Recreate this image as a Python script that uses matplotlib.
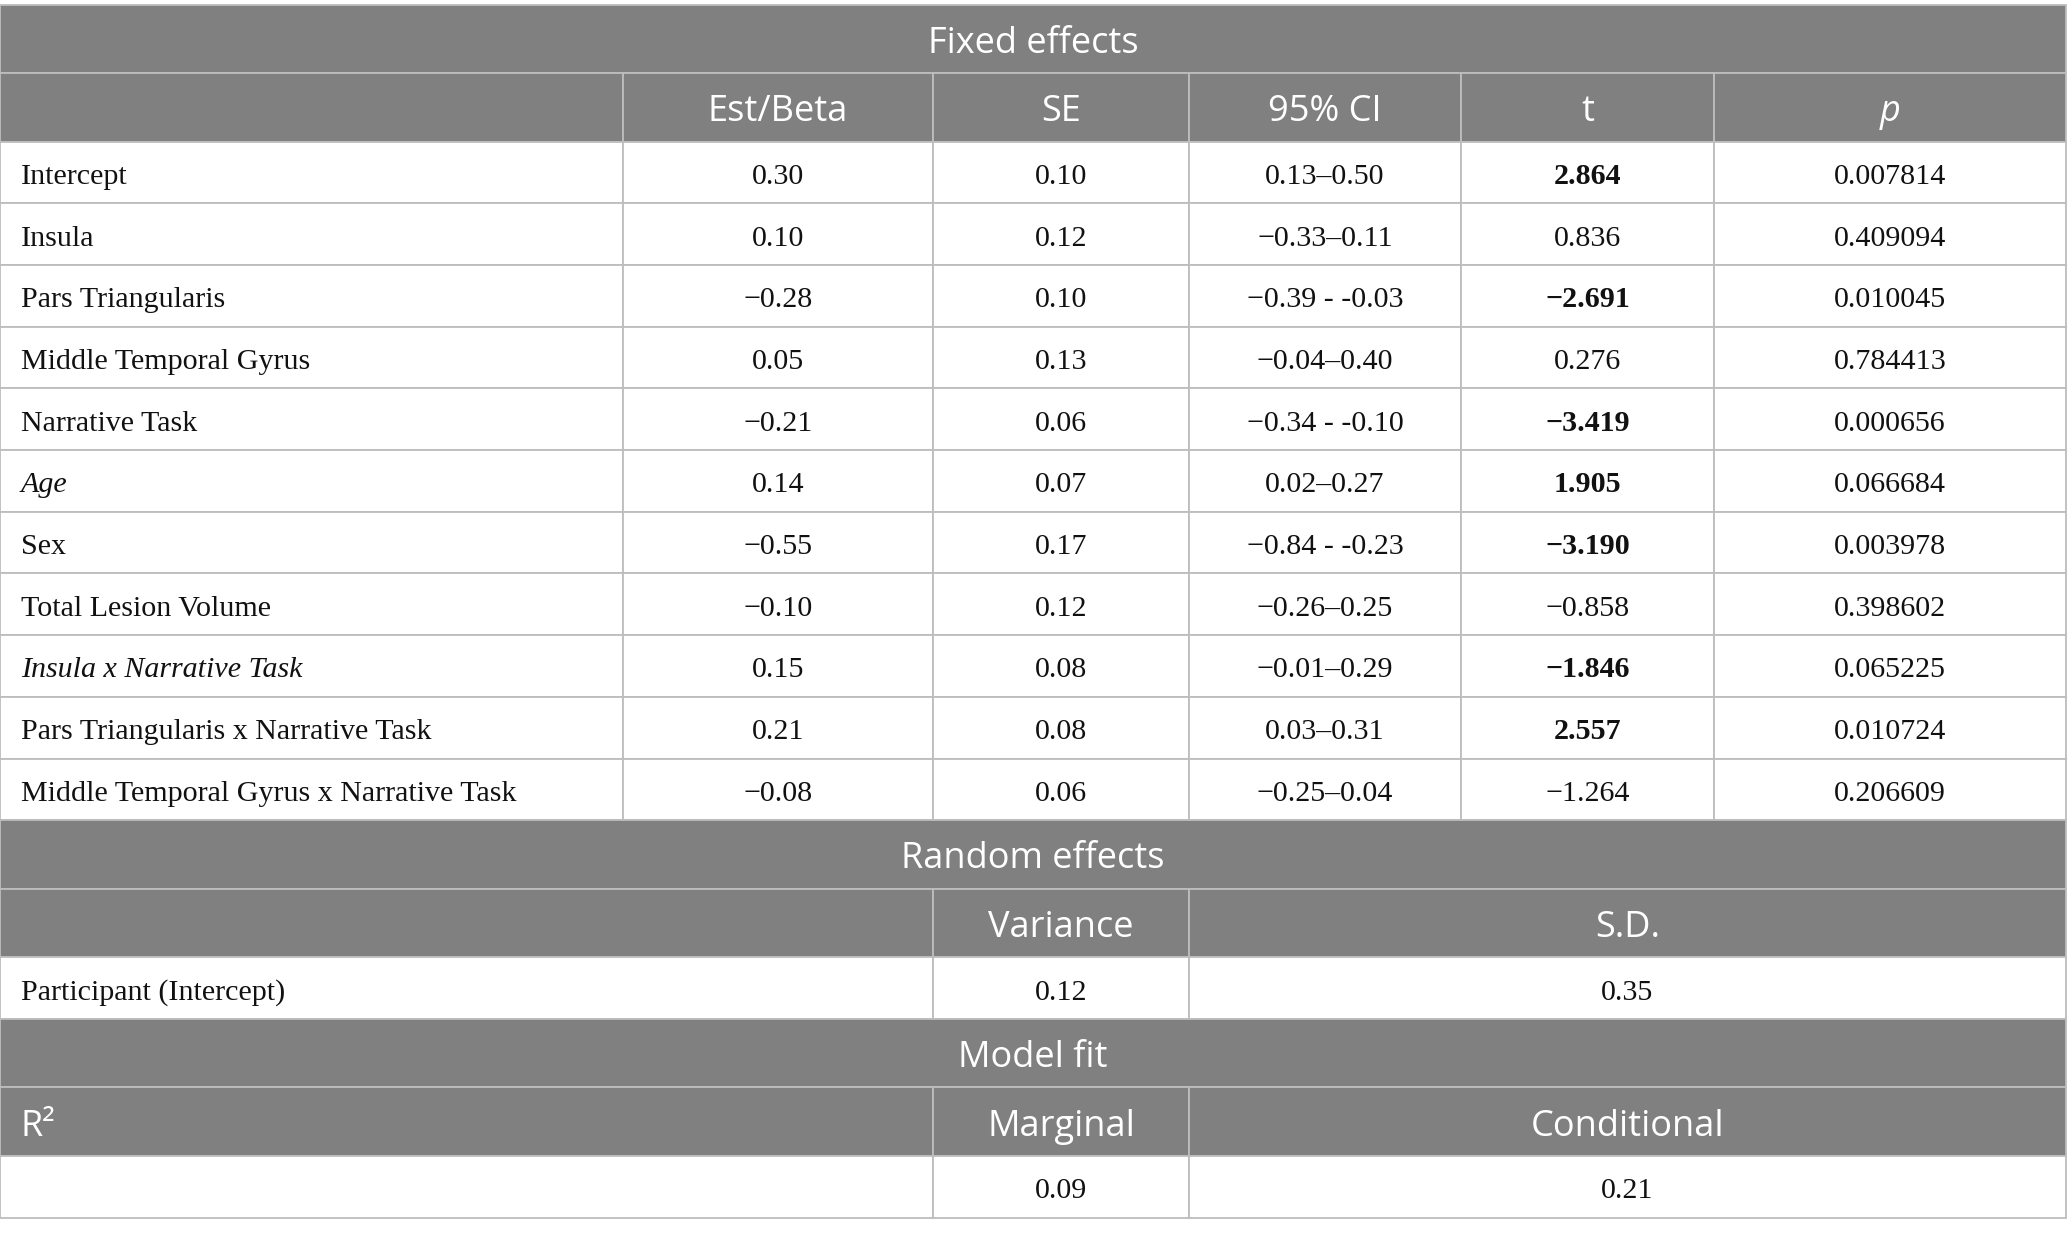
import matplotlib
matplotlib.use("Agg")
import matplotlib.pyplot as plt
from matplotlib.patches import Rectangle

# ---------------- data ----------------
fixed_header = "Fixed effects"
col_headers = ["", "Est/Beta", "SE", "95% CI", "t", "p"]
row_labels = ["Intercept", "Insula", "Pars Triangularis", "Middle Temporal Gyrus",
              "Narrative Task", "Age", "Sex", "Total Lesion Volume",
              "Insula x Narrative Task", "Pars Triangularis x Narrative Task",
              "Middle Temporal Gyrus x Narrative Task"]
italic_labels = ["Age", "Insula x Narrative Task"]
est_beta = ["0.30", "0.10", "\u22120.28", "0.05", "\u22120.21", "0.14", "\u22120.55",
            "\u22120.10", "0.15", "0.21", "\u22120.08"]
se_vals = ["0.10", "0.12", "0.10", "0.13", "0.06", "0.07", "0.17", "0.12", "0.08",
           "0.08", "0.06"]
ci_vals = ["0.13\u20130.50", "\u22120.33\u20130.11", "\u22120.39 - -0.03",
           "\u22120.04\u20130.40", "\u22120.34 - -0.10", "0.02\u20130.27",
           "\u22120.84 - -0.23", "\u22120.26\u20130.25", "\u22120.01\u20130.29",
           "0.03\u20130.31", "\u22120.25\u20130.04"]
t_vals = ["2.864", "0.836", "\u22122.691", "0.276", "\u22123.419", "1.905",
          "\u22123.190", "\u22120.858", "\u22121.846", "2.557", "\u22121.264"]
t_bold = [True, False, True, False, True, True, True, False, True, True, False]
p_vals = ["0.007814", "0.409094", "0.010045", "0.784413", "0.000656", "0.066684",
          "0.003978", "0.398602", "0.065225", "0.010724", "0.206609"]

random_header = "Random effects"
random_cols = ["Variance", "S.D."]
random_label = "Participant (Intercept)"
random_vals = ["0.12", "0.35"]

fit_header = "Model fit"
fit_label = "R\u00b2"
fit_cols = ["Marginal", "Conditional"]
fit_vals = ["0.09", "0.21"]

# ---------------- layout / style ----------------
W, H = 2067, 1236
col_edges = [0, 623, 933, 1189, 1461, 1714, 2066]
top = 4.5
hdr_h = 68.5
row_h = 61.7
hdr_fill = "#7f807f"
line_col = "#bdbdbd"
lw = 1.3
hdr_font = "Open Sans"
body_font = "Liberation Serif"
hdr_size = 26
body_size = 21.6
hdr_cap = 14.0
body_cap = 11.5
pad = 21

fig = plt.figure(figsize=(W / 100, H / 100), dpi=100)
ax = fig.add_axes([0, 0, 1, 1])
ax.set_xlim(0, W)
ax.set_ylim(H, 0)
ax.axis("off")


def cell(x0, x1, y0, h, fill):
    ax.add_patch(Rectangle((x0, y0), x1 - x0, h, facecolor=fill,
                           edgecolor=line_col, lw=lw, zorder=1))


def htext(s, x, yc, ha="center", style="normal"):
    ax.text(x, yc + hdr_cap, s, ha=ha, va="baseline", color="white",
            fontsize=hdr_size, family=hdr_font, style=style, zorder=3)


def btext(s, x, yc, ha="center", style="normal", weight="normal"):
    ax.text(x, yc + body_cap, s, ha=ha, va="baseline", color="#111111",
            fontsize=body_size, family=body_font, style=style,
            weight=weight, zorder=3)


y = top
# Fixed effects header
cell(col_edges[0], col_edges[-1], y, hdr_h, hdr_fill)
htext(fixed_header, (col_edges[0] + col_edges[-1]) / 2, y + hdr_h / 2)
y += hdr_h
# column headers
for i, name in enumerate(col_headers):
    cell(col_edges[i], col_edges[i + 1], y, hdr_h, hdr_fill)
    if name:
        htext(name, (col_edges[i] + col_edges[i + 1]) / 2, y + hdr_h / 2,
              style="italic" if name == "p" else "normal")
y += hdr_h
# data rows
for r, lab in enumerate(row_labels):
    for i in range(len(col_edges) - 1):
        cell(col_edges[i], col_edges[i + 1], y, row_h, "white")
    yc = y + row_h / 2
    btext(lab, col_edges[0] + pad, yc, ha="left",
          style="italic" if lab in italic_labels else "normal")
    vals = [est_beta[r], se_vals[r], ci_vals[r], t_vals[r], p_vals[r]]
    for j, v in enumerate(vals):
        xc = (col_edges[j + 1] + col_edges[j + 2]) / 2
        bold = (j == 3 and t_bold[r])
        btext(v, xc, yc, weight="bold" if bold else "normal")
    y += row_h

# Random effects
cell(col_edges[0], col_edges[-1], y, hdr_h, hdr_fill)
htext(random_header, (col_edges[0] + col_edges[-1]) / 2, y + hdr_h / 2)
y += hdr_h
spans = [(col_edges[0], col_edges[2]), (col_edges[2], col_edges[3]),
         (col_edges[3], col_edges[-1])]
for k, (a, b) in enumerate(spans):
    cell(a, b, y, hdr_h, hdr_fill)
    if k > 0:
        htext(random_cols[k - 1], (a + b) / 2, y + hdr_h / 2)
y += hdr_h
for k, (a, b) in enumerate(spans):
    cell(a, b, y, row_h, "white")
btext(random_label, col_edges[0] + pad, y + row_h / 2, ha="left")
for k in range(2):
    a, b = spans[k + 1]
    btext(random_vals[k], (a + b) / 2, y + row_h / 2)
y += row_h

# Model fit
cell(col_edges[0], col_edges[-1], y, hdr_h, hdr_fill)
htext(fit_header, (col_edges[0] + col_edges[-1]) / 2, y + hdr_h / 2)
y += hdr_h
for k, (a, b) in enumerate(spans):
    cell(a, b, y, hdr_h, hdr_fill)
    if k > 0:
        htext(fit_cols[k - 1], (a + b) / 2, y + hdr_h / 2)
htext(fit_label, col_edges[0] + pad, y + hdr_h / 2, ha="left")
y += hdr_h
for k, (a, b) in enumerate(spans):
    cell(a, b, y, row_h, "white")
for k in range(2):
    a, b = spans[k + 1]
    btext(fit_vals[k], (a + b) / 2, y + row_h / 2)

fig.savefig("out.png", dpi=100, facecolor="white")
